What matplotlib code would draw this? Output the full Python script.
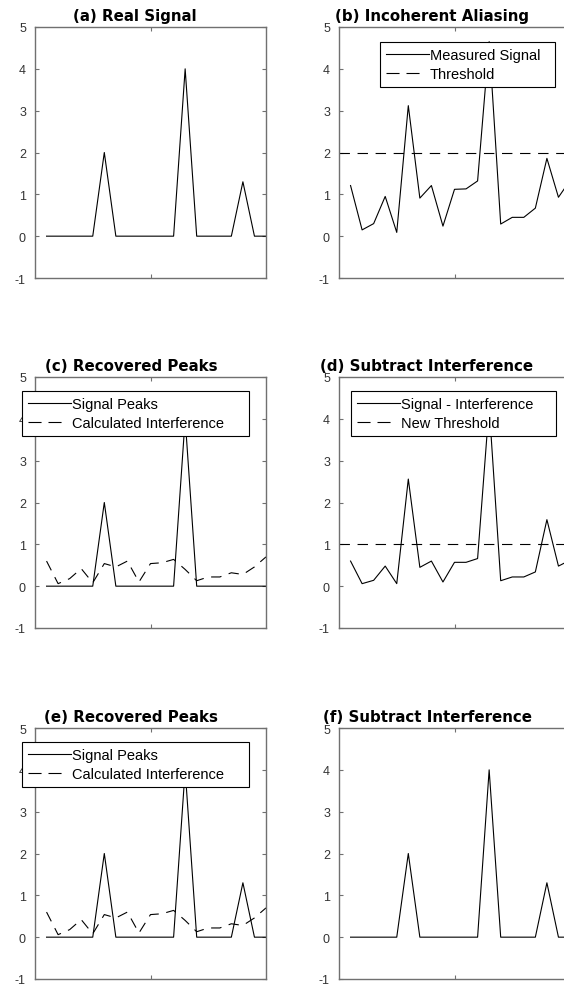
from matplotlib import pyplot as plt
from matplotlib.lines import Line2D

plt.rcParams['font.family'] = ['Liberation Sans', 'DejaVu Sans']
plt.rcParams['lines.scale_dashes'] = False
plt.rcParams['axes.unicode_minus'] = False

# sample index 1..20
x = list(range(1, 21))

real_signal = [0, 0, 0, 0, 0, 2, 0, 0, 0, 0, 0, 0, 4, 0, 0, 0, 0, 1.3, 0, 0]
measured = [1.21, 0.15, 0.30, 0.95, 0.09, 3.12, 0.91, 1.21, 0.24, 1.12,
            1.13, 1.32, 4.65, 0.29, 0.45, 0.45, 0.67, 1.86, 0.93, 1.33]
threshold = 2
peaks_first = [0, 0, 0, 0, 0, 2, 0, 0, 0, 0, 0, 0, 4, 0, 0, 0, 0, 0, 0, 0]
interference = [0.60, 0.06, 0.18, 0.42, 0.08, 0.54, 0.46, 0.60, 0.10, 0.54,
                0.56, 0.64, 0.40, 0.13, 0.22, 0.22, 0.32, 0.28, 0.46, 0.70]
subtracted = [0.60, 0.06, 0.14, 0.48, 0.06, 2.56, 0.45, 0.60, 0.10, 0.57,
              0.57, 0.66, 4.30, 0.13, 0.22, 0.22, 0.34, 1.59, 0.48, 0.62]
new_threshold = 1
peaks_second = real_signal

titles = ["(a) Real Signal", "(b) Incoherent Aliasing",
          "(c) Recovered Peaks", "(d) Subtract Interference",
          "(e) Recovered Peaks", "(f) Subtract Interference"]
yticks = [-1, 0, 1, 2, 3, 4, 5]

W, H = 564, 987
fig = plt.figure(figsize=(W / 100, H / 100), dpi=100)

col_left = [35, 339]
row_top = [28, 378, 729]
ax_w, ax_h = 231, 251
title_cx = [[135, 432], [131.5, 427], [131.5, 427.5]]

DASH = (0, (7.5, 5.5))
LEG_DASH = (0, (9.4, 5.0, 9.4, 14.0))
SPINE = '#707070'

axes = []
for r in range(3):
    for c in range(2):
        ax = fig.add_axes([col_left[c] / W, 1 - (row_top[r] + ax_h) / H, ax_w / W, ax_h / H])
        ax.set_xlim(0, 20)
        ax.set_ylim(-1, 5)
        ax.set_xticks([10])
        ax.set_xticklabels([])
        ax.set_yticks(yticks)
        ax.tick_params(direction='in', length=3, width=0.8, color=SPINE,
                       labelsize=9, labelcolor='#333333', pad=6.5,
                       top=True, right=True)
        for s in ax.spines.values():
            s.set_color(SPINE)
            s.set_linewidth(1.0)
        cx = (title_cx[r][c] - col_left[c]) / ax_w
        ax.text(cx, 1 + 7 / ax_h, titles[2 * r + c], transform=ax.transAxes,
                ha='center', va='baseline', fontsize=10.8, fontweight='bold',
                family='DejaVu Sans')
        axes.append(ax)

lw = 0.8

def add_legend(ax, labels, x0, x1, top):
    handles = [Line2D([], [], color='black', lw=lw),
               Line2D([], [], color='black', lw=lw, ls=LEG_DASH)]
    leg = ax.legend(handles, labels, loc='upper left',
                    bbox_to_anchor=(x0 / ax_w, top, (x1 - x0) / ax_w, 0),
                    mode='expand', borderaxespad=0, fontsize=10.5,
                    handlelength=2.95, handletextpad=0.05, labelspacing=0.33,
                    borderpad=0.42, fancybox=False, framealpha=1,
                    edgecolor='black')
    leg.get_frame().set_linewidth(0.8)

# (a)
axes[0].plot(x, real_signal, color='black', lw=lw)

# (b)
axes[1].plot(x, measured, color='black', lw=lw)
axes[1].axhline(threshold, color='black', lw=lw, ls=DASH)
add_legend(axes[1], ['Measured Signal', 'Threshold'], 380 - 339, 555 - 339, 1 - 15 / ax_h)

# (c)
axes[2].plot(x, peaks_first, color='black', lw=lw)
axes[2].plot(x, interference, color='black', lw=lw, ls=DASH)
add_legend(axes[2], ['Signal Peaks', 'Calculated Interference'], 22 - 35, 249 - 35, 1 - 14 / ax_h)

# (d)
axes[3].plot(x, subtracted, color='black', lw=lw)
axes[3].axhline(new_threshold, color='black', lw=lw, ls=DASH)
add_legend(axes[3], ['Signal - Interference', 'New Threshold'], 351 - 339, 556 - 339, 1 - 14 / ax_h)

# (e)
axes[4].plot(x, peaks_second, color='black', lw=lw)
axes[4].plot(x, interference, color='black', lw=lw, ls=DASH)
add_legend(axes[4], ['Signal Peaks', 'Calculated Interference'], 22 - 35, 249 - 35, 1 - 14 / ax_h)

# (f)
axes[5].plot(x, real_signal, color='black', lw=lw)

fig.savefig('out.png', dpi=100)
